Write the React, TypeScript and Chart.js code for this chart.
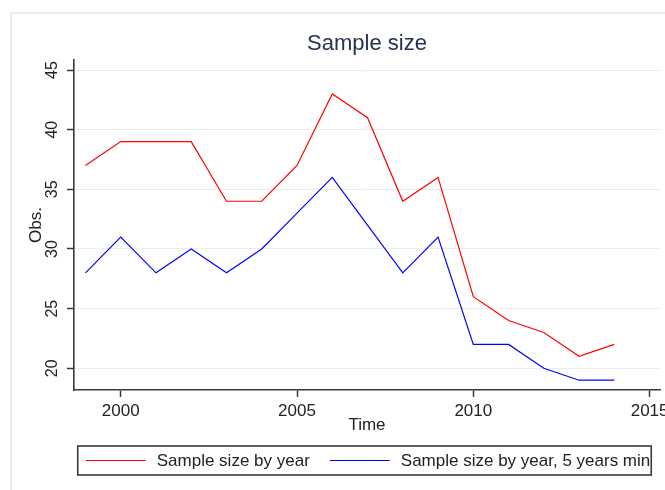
import React, { useEffect, useRef } from "react";
import { Chart, registerables } from "chart.js";

Chart.register(...registerables);

const years = [1999, 2000, 2001, 2002, 2003, 2004, 2005, 2006, 2007, 2008, 2009, 2010, 2011, 2012, 2013, 2014];
const sampleByYear = [37, 39, 39, 39, 34, 34, 37, 43, 41, 34, 36, 26, 24, 23, 21, 22];
const sampleFiveYearsMin = [28, 31, 28, 30, 28, 30, 33, 36, 32, 28, 31, 22, 22, 20, 19, 19];
const seriesLabels = ["Sample size by year", "Sample size by year, 5 years min"];
const seriesColors = ["#ff0000", "#0000ff"];
const xTickValues = [2000, 2005, 2010, 2015];
const yTickValues = [20, 25, 30, 35, 40, 45];
const chartTitle = "Sample size";
const xTitle = "Time";
const yTitle = "Obs.";

const FONT = "'Liberation Sans', Arial, sans-serif";
const AXIS = "#3a3a3a";

// Boxed legend drawn below the x axis, built from the datasets.
const boxedLegend = {
  id: "boxedLegend",
  afterDraw(chart: any) {
    const ctx = chart.ctx;
    const area = chart.chartArea;
    const lineLen = 60;
    const textGap = 11;
    const itemGap = 20;
    const fontSize = 17;
    ctx.save();
    ctx.font = `${fontSize}px ${FONT}`;
    const items = chart.data.datasets.map((ds: any) => ({
      text: ds.label as string,
      color: ds.borderColor as string,
      width: ds.borderWidth as number,
      tw: ctx.measureText(ds.label).width,
    }));
    const total =
      items.reduce((s: number, it: any) => s + lineLen + textGap + it.tw, 0) +
      itemGap * (items.length - 1);
    const center = (area.left + area.right) / 2 + 1;
    const start = center - total / 2;
    const cy = chart.height - 29.5;
    let x = start;
    ctx.textBaseline = "middle";
    ctx.textAlign = "left";
    for (const it of items) {
      ctx.beginPath();
      ctx.strokeStyle = it.color;
      ctx.lineWidth = it.width;
      ctx.moveTo(x, cy);
      ctx.lineTo(x + lineLen, cy);
      ctx.stroke();
      x += lineLen + textGap;
      ctx.fillStyle = "#222";
      ctx.fillText(it.text, x, cy + 0.5);
      x += it.tw + itemGap;
    }
    const end = x - itemGap;
    ctx.strokeStyle = AXIS;
    ctx.lineWidth = 1.6;
    ctx.strokeRect(start - 8, cy - 14.5, end + 1 - (start - 8), 29);
    ctx.restore();
  },
};

export default function App() {
  const ref = useRef<HTMLCanvasElement | null>(null);

  useEffect(() => {
    if (!ref.current) return;
    Chart.defaults.font.family = FONT;
    const series = [sampleByYear, sampleFiveYearsMin];
    const chart = new Chart(ref.current, {
      type: "line",
      data: {
        datasets: series.map((vals, si) => ({
          label: seriesLabels[si],
          data: years.map((x, i) => ({ x, y: vals[i] })),
          borderColor: seriesColors[si],
          backgroundColor: seriesColors[si],
          borderWidth: 1.2,
          pointRadius: 0,
          tension: 0,
          fill: false,
        })),
      },
      options: {
        animation: false,
        responsive: false,
        devicePixelRatio: 1,
        layout: { padding: { top: 0, left: 0, right: 5, bottom: 58 } },
        plugins: {
          title: {
            display: true,
            text: chartTitle,
            fullSize: false,
            color: "#243352",
            font: { size: 22, weight: "normal", family: FONT },
            padding: { top: 30.6, bottom: 3 },
          },
          legend: { display: false },
          tooltip: { enabled: false },
        },
        scales: {
          x: {
            type: "linear",
            min: 1998.675,
            max: 2015.295,
            afterBuildTicks: (s: any) => {
              s.ticks = xTickValues.map((v) => ({ value: v }));
            },
            afterFit: (s: any) => {
              s.height = 42;
              s.paddingLeft = 0;
              s.paddingRight = 0;
            },
            ticks: {
              autoSkip: false,
              maxRotation: 0,
              padding: 4,
              color: "#222",
              font: { size: 17, family: FONT },
              callback: (v: any) => String(v),
            },
            grid: {
              drawOnChartArea: false,
              drawTicks: true,
              tickLength: 7,
              tickColor: AXIS,
              tickWidth: 1.5,
            },
            border: { display: true, color: AXIS, width: 1.6 },
            title: {
              display: true,
              text: xTitle,
              color: "#222",
              font: { size: 17, family: FONT, lineHeight: 0.8 },
              padding: 0,
            },
          },
          y: {
            type: "linear",
            min: 18.18,
            max: 45.84,
            afterBuildTicks: (s: any) => {
              s.ticks = yTickValues.map((v) => ({ value: v }));
            },
            afterFit: (s: any) => {
              s.width = 74;
              s.paddingTop = 0;
              s.paddingBottom = 0;
            },
            ticks: {
              autoSkip: false,
              minRotation: 90,
              maxRotation: 90,
              crossAlign: "center",
              padding: 6,
              color: "#222",
              font: { size: 16, family: FONT },
              callback: (v: any) => String(v),
            },
            grid: {
              color: "#e6eef1",
              lineWidth: 1,
              drawTicks: true,
              tickLength: 7,
              tickColor: AXIS,
              tickWidth: 1.5,
            },
            border: { display: true, color: AXIS, width: 1.6 },
            title: {
              display: true,
              text: yTitle,
              color: "#222",
              font: { size: 17, family: FONT },
              padding: { top: 26.3, bottom: 0 },
            },
          },
        },
      },
      plugins: [boxedLegend],
    } as any);
    return () => chart.destroy();
  }, []);

  return (
    <div
      style={{
        position: "fixed",
        left: 0,
        top: 0,
        width: 665,
        height: 490,
        overflow: "hidden",
        background: "#ffffff",
      }}
    >
      <div
        style={{
          position: "absolute",
          left: 10,
          top: 12,
          width: 700,
          height: 500,
          borderTop: "2px solid #e4edf0",
          borderLeft: "2px solid #e4edf0",
        }}
      />
      <canvas
        ref={ref}
        width={665}
        height={490}
        style={{ position: "absolute", left: 0, top: 0, display: "block" }}
      />
    </div>
  );
}
